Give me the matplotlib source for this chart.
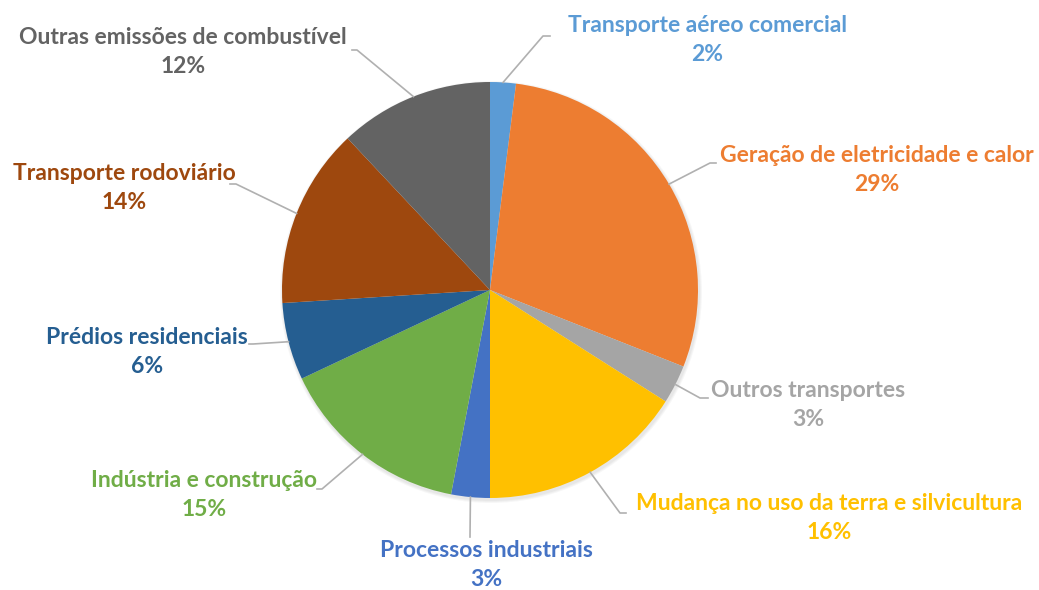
import numpy as np
import matplotlib.pyplot as plt

labels = ["Transporte aéreo comercial", "Geração de eletricidade e calor",
          "Outros transportes", "Mudança no uso da terra e silvicultura",
          "Processos industriais", "Indústria e construção",
          "Prédios residenciais", "Transporte rodoviário",
          "Outras emissões de combustível"]
values = [2, 29, 3, 16, 3, 15, 6, 14, 12]
colors = ["#5B9BD5", "#ED7D31", "#A5A5A5", "#FFC000", "#4472C4",
          "#70AD47", "#255E91", "#9E480E", "#636363"]

# label layout in pixel coords (y from top): text centre, elbow, end of short tick
text_pos = [(707, 40), (877, 170), (808, 405), (829, 518), (486, 565),
            (204, 495), (147, 352), (124, 188), (183, 52)]
elbows = [(543, 36, 550), (710, 163, 716), (700, 398, 708), (620, 513, 626),
          (470, 537, 470), (322, 489, 317), (253, 344, 249), (236, 184, 230),
          (357, 50, 352)]

W, H = 1039, 590
CX, CY, R = 490, 300, 208


def main():
    fig = plt.figure(figsize=(W / 100, H / 100), dpi=100)
    ax = fig.add_axes([0, 0, 1, 1])

    # soft shadow
    for i, a in enumerate([0.03, 0.03, 0.03]):
        ax.add_patch(plt.Circle((CX + 1, CY - 2), R + 3 - i, color="black",
                                alpha=a, lw=0, zorder=0))

    wedges, _ = ax.pie(values, colors=colors, startangle=90, counterclock=False,
                       center=(CX, CY), radius=R, frame=True,
                       wedgeprops=dict(linewidth=0))
    ax.set_xlim(0, W)
    ax.set_ylim(0, H)
    ax.set_aspect("equal")
    ax.axis("off")

    for w, lab, v, c, tp, el in zip(wedges, labels, values, colors, text_pos, elbows):
        mid = np.deg2rad((w.theta1 + w.theta2) / 2)
        ex, ey = CX + R * np.cos(mid), CY + R * np.sin(mid)
        ax.plot([ex, el[0], el[2]], [ey, H - el[1], H - el[1]],
                color="#B0B0B0", lw=1.2, zorder=1)
        ax.text(tp[0], H - tp[1], f"{lab}\n{v}%", ha="center", va="center",
                color=c, fontsize=16.5, fontweight="bold", family="Lato",
                linespacing=1.45)

    fig.savefig("out.png", dpi=100)


if __name__ == '__main__':
    main()
